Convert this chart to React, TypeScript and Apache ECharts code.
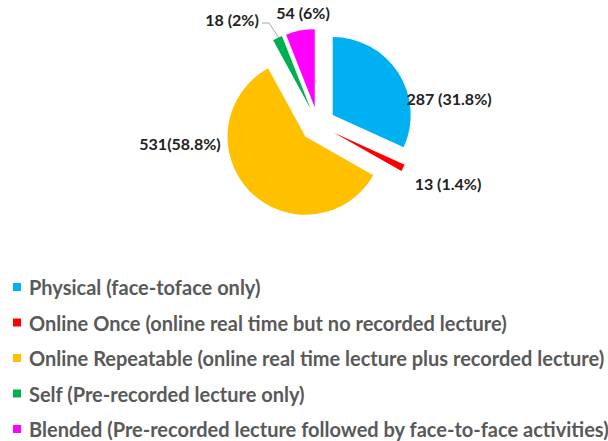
import React, { useEffect, useRef } from "react";
import * as echarts from "echarts";

const categories = [
  "Physical (face-toface only)",
  "Online Once (online real time but no recorded lecture)",
  "Online Repeatable (online real time lecture plus recorded lecture)",
  "Self (Pre-recorded lecture only)",
  "Blended (Pre-recorded lecture followed by face-to-face activities)",
];
const values = [287, 13, 531, 18, 54];
const labelTexts = ["287 (31.8%)", "13 (1.4%)", "531(58.8%)", "18 (2%)", "54 (6%)"];
const colors = ["#00B0F0", "#FF0000", "#FFC000", "#00B050", "#FF00FF"];

// label centre positions (layout only)
const labelPos: [number, number][] = [
  [449, 98],
  [448, 183],
  [180, 143],
  [232, 19],
  [303, 12],
];

export default function App() {
  const ref = useRef<HTMLDivElement>(null);
  useEffect(() => {
    if (!ref.current) return;
    const chart = echarts.init(ref.current, undefined, { renderer: "svg" });
    const font = "Lato, 'Open Sans', sans-serif";
    const center = [318, 124.5];
    const radius = 78;
    chart.setOption({
      animation: false,
      legend: {
        orient: "vertical",
        left: 13,
        top: 277,
        height: 170,
        padding: 0,
        itemWidth: 8,
        itemHeight: 8,
        itemGap: 15.5,
        icon: "rect",
        selectedMode: false,
        textStyle: {
          fontFamily: font,
          fontWeight: "bold",
          fontSize: 20,
          lineHeight: 20,
          color: "#595959",
          padding: [0, 0, 0, 3],
        },
        data: categories,
      },
      series: [
        {
          type: "pie",
          center,
          radius,
          startAngle: 90,
          clockwise: true,
          selectedMode: "multiple",
          selectedOffset: 17.5,
          emphasis: { disabled: true },
          label: { show: false },
          labelLine: { show: false },
          data: categories.map((name, i) => ({
            name,
            value: values[i],
            selected: true,
            itemStyle: { color: colors[i] },
          })),
        },
        {
          type: "pie",
          center,
          radius,
          startAngle: 90,
          clockwise: true,
          silent: true,
          selectedMode: false,
          emphasis: { disabled: true },
          itemStyle: { color: "rgba(0,0,0,0)" },
          label: {
            show: true,
            position: "outside",
            fontFamily: font,
            fontWeight: "bold",
            fontSize: 16,
            color: "#222222",
            formatter: (p: any) => labelTexts[p.dataIndex],
          },
          labelLine: { show: false },
          labelLayout: (p: any) => {
            const [x, y] = labelPos[p.dataIndex];
            const out: any = { x, y, align: "center", verticalAlign: "middle" };
            if (p.dataIndex === 3) {
              out.labelLinePoints = [
                [279, 38],
                [269, 23],
                [262, 23],
              ];
            }
            return out;
          },
          data: categories.map((name, i) => ({
            name,
            value: values[i],
            itemStyle: { color: "rgba(0,0,0,0)" },
            labelLine:
              i === 3
                ? { show: true, lineStyle: { color: "#A6A6A6", width: 1 } }
                : { show: false },
          })),
        },
      ],
    });
    return () => chart.dispose();
  }, []);
  return (
    <div
      ref={ref}
      style={{ position: "fixed", left: 0, top: 0, width: 608, height: 441, background: "#fff" }}
    />
  );
}
